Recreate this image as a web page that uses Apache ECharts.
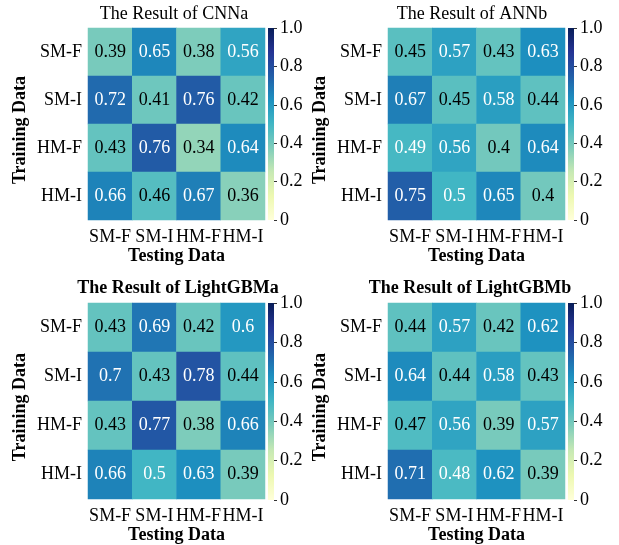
<!DOCTYPE html>
<html>
<head>
<meta charset="utf-8">
<script src="https://cdn.jsdelivr.net/npm/echarts@6/dist/echarts.min.js"></script>
<style>html,body{margin:0;padding:0;background:#fff;}#c{width:619px;height:545px;}</style>
</head>
<body>
<div id="c"></div>
<script>
const testCats = ['SM-F', 'SM-I', 'HM-F', 'HM-I'];
const trainCats = ['SM-F', 'SM-I', 'HM-F', 'HM-I'];
const titles = ['The Result of CNNa', 'The Result of ANNb', 'The Result of LightGBMa', 'The Result of LightGBMb'];
const titleBold = [false, false, true, true];
// rows: training data (SM-F, SM-I, HM-F, HM-I); columns: testing data
const cnnA = [
  [0.39, 0.65, 0.38, 0.56],
  [0.72, 0.41, 0.76, 0.42],
  [0.43, 0.76, 0.34, 0.64],
  [0.66, 0.46, 0.67, 0.36]
];
const annB = [
  [0.45, 0.57, 0.43, 0.63],
  [0.67, 0.45, 0.58, 0.44],
  [0.49, 0.56, 0.4, 0.64],
  [0.75, 0.5, 0.65, 0.4]
];
const lgbmA = [
  [0.43, 0.69, 0.42, 0.6],
  [0.7, 0.43, 0.78, 0.44],
  [0.43, 0.77, 0.38, 0.66],
  [0.66, 0.5, 0.63, 0.39]
];
const lgbmB = [
  [0.44, 0.57, 0.42, 0.62],
  [0.64, 0.44, 0.58, 0.43],
  [0.47, 0.56, 0.39, 0.57],
  [0.71, 0.48, 0.62, 0.39]
];
const colorbarTicks = [0, 0.2, 0.4, 0.6, 0.8, 1.0];
const matrices = [cnnA, annB, lgbmA, lgbmB];

const ylgnbu = ['#ffffd9', '#edf8b1', '#c7e9b4', '#7fcdbb', '#41b6c4', '#1d91c0', '#225ea8', '#253494', '#081d58'];
const FONT = 'Liberation Serif';

const panels = [
  {left: 88, top: 28, w: 177, h: 192, tx: 174, ty: 5},
  {left: 388, top: 28, w: 177, h: 192, tx: 472, ty: 5},
  {left: 88, top: 303, w: 177, h: 197, tx: 178, ty: 279},
  {left: 388, top: 303, w: 177, h: 197, tx: 470, ty: 279}
];

const grids = [], xAxes = [], yAxes = [], series = [], titleOpts = [];
panels.forEach((p, i) => {
  grids.push({left: p.left, top: p.top, width: p.w, height: p.h, containLabel: false});
  xAxes.push({
    type: 'category', gridIndex: i, data: testCats, position: 'bottom',
    name: 'Testing Data', nameLocation: 'middle', nameGap: 25,
    nameTextStyle: {fontFamily: FONT, fontSize: 18, fontWeight: 'bold', color: '#000'},
    axisLine: {show: false}, axisTick: {show: false}, splitArea: {show: false},
    axisLabel: {interval: 0, margin: 8, fontFamily: FONT, fontSize: 18, color: '#000'}
  });
  yAxes.push({
    type: 'category', gridIndex: i, data: trainCats, inverse: true,
    name: 'Training Data', nameLocation: 'middle', nameGap: 59, nameRotate: 90,
    nameTextStyle: {fontFamily: FONT, fontSize: 18, fontWeight: 'bold', color: '#000', padding: [0, 12, 0, 0]},
    axisLine: {show: false}, axisTick: {show: false}, splitArea: {show: false},
    axisLabel: {margin: 6, fontFamily: FONT, fontSize: 18, color: '#000'}
  });
  const data = [];
  matrices[i].forEach((row, r) => row.forEach((v, c) => data.push([c, r, v])));
  series.push({
    type: 'heatmap', xAxisIndex: i, yAxisIndex: i, data: data,
    itemStyle: {borderWidth: 0},
    emphasis: {disabled: true},
    label: {
      show: true,
      formatter: (prm) => {
        const v = prm.value[2];
        return (v >= 0.48 ? '{w|' : '{k|') + v + '}';
      },
      rich: {
        w: {color: '#ffffff', fontFamily: FONT, fontSize: 18},
        k: {color: '#000000', fontFamily: FONT, fontSize: 18}
      }
    }
  });
  titleOpts.push({
    text: titles[i], left: p.tx, top: p.ty, textAlign: 'center', padding: 0,
    textStyle: {fontFamily: FONT, fontSize: 18, fontWeight: titleBold[i] ? 'bold' : 'normal', color: '#000'}
  });
});

// colorbars
panels.forEach((p, i) => {
  const gi = grids.length;
  grids.push({left: p.left + p.w + 3, top: p.top, width: 6, height: p.h});
  xAxes.push({type: 'category', gridIndex: gi, data: [''], show: false});
  yAxes.push({
    type: 'value', gridIndex: gi, min: colorbarTicks[0], max: colorbarTicks[colorbarTicks.length - 1],
    interval: 0.2, position: 'right',
    axisLine: {show: false}, splitLine: {show: false},
    axisTick: {show: true, length: 3, lineStyle: {color: '#333', width: 1}},
    axisLabel: {
      margin: 6, fontFamily: FONT, fontSize: 18, color: '#000',
      formatter: (v) => (v === 0 ? '0' : v.toFixed(1))
    }
  });
  series.push({
    type: 'bar', xAxisIndex: gi, yAxisIndex: gi, data: [colorbarTicks[colorbarTicks.length - 1]],
    barWidth: '100%', silent: true,
    itemStyle: {
      color: new echarts.graphic.LinearGradient(0, 1, 0, 0,
        ylgnbu.map((c, k) => ({offset: k / (ylgnbu.length - 1), color: c})))
    }
  });
});

const chart = echarts.init(document.getElementById('c'), null, {renderer: 'canvas'});
chart.setOption({
  animation: false,
  backgroundColor: '#ffffff',
  title: titleOpts,
  grid: grids,
  xAxis: xAxes,
  yAxis: yAxes,
  visualMap: {
    show: false, type: 'continuous', min: 0, max: 1, seriesIndex: [0, 1, 2, 3], dimension: 2,
    inRange: {color: ylgnbu}
  },
  series: series
});
</script>
</body>
</html>
